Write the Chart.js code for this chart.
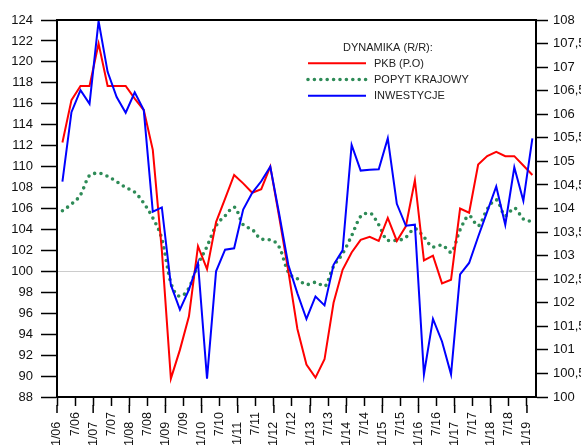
<!DOCTYPE html>
<html>
<head>
<meta charset="utf-8">
<script src="https://cdn.jsdelivr.net/npm/chart.js@4.4.1/dist/chart.umd.min.js"></script>
<style>
  html, body { margin: 0; padding: 0; background: #fff; overflow: hidden; width: 581px; height: 446px; }
  canvas { display: block; }
</style>
</head>
<body>
<canvas id="c" width="620" height="460"></canvas>
<script>
// ---- data (quarterly, I 2006 .. I 2019) ----
const xTickLabels = ['1/06','7/06','1/07','7/07','1/08','7/08','1/09','7/09','1/10','7/10',
  '1/11','7/11','1/12','7/12','1/13','7/13','1/14','7/14','1/15','7/15','1/16','7/16',
  '1/17','7/17','1/18','7/18','1/19'];

const pkb = [112.3,116.35,117.7,117.7,121.75,117.7,117.7,117.7,116.5,115.4,
  111.6,102.0,89.75,92.5,95.7,102.4,100.2,104.7,106.95,109.2,
  108.4,107.5,107.85,110.0,105.1,100.0,94.5,91.1,89.85,91.6,
  97.0,100.15,101.8,103.0,103.3,102.9,105.1,102.9,104.3,108.7,
  101.05,101.5,98.85,99.2,106.0,105.6,110.2,111.0,111.4,111.0,
  111.0,110.1,109.2];

const popyt = [105.78,106.42,107.3,109.14,109.37,109.08,108.57,108.0,107.56,106.51,
  105.1,103.1,98.9,97.62,98.4,100.64,102.38,104.35,105.3,106.13,
  104.45,104.0,103.08,103.0,102.3,99.9,99.3,98.73,98.95,98.57,
  100.48,101.69,103.4,105.24,105.56,104.45,102.95,102.95,103.25,104.07,
  103.27,102.32,102.51,101.81,103.97,105.3,104.35,105.94,106.83,105.3,
  106.04,104.99,104.76];

const inwestycje = [108.57,115.2,117.3,116.0,123.9,119.05,116.65,115.15,117.1,115.4,
  105.7,106.1,98.7,96.35,98.26,100.8,89.75,100.0,102.07,102.2,
  105.9,107.5,108.6,110.0,105.4,100.6,97.9,95.45,97.6,96.75,
  100.62,102.0,112.07,109.62,109.7,109.75,112.7,106.45,104.35,104.45,
  90.16,95.46,93.3,90.16,99.7,100.8,103.3,105.7,108.1,104.45,
  109.94,106.73,112.7];

const seriesNames = ['PKB (P.O)', 'POPYT KRAJOWY', 'INWESTYCJE'];
const legendTitle = 'DYNAMIKA (R/R):';

// ---- layout / style ----
const POINT_OFFSET = 0.6;           // points drawn inside each quarter
const FONT = 'Arial, "Liberation Sans", sans-serif';
const toPts = arr => arr.map((v, i) => ({ x: i + POINT_OFFSET, y: v }));

const frameAndTicks = {
  id: 'frameAndTicks',
  afterDraw(chart) {
    const { ctx, chartArea } = chart;
    const xs = chart.scales.x;
    ctx.save();
    ctx.strokeStyle = '#000';
    // top frame line
    ctx.lineWidth = 2;
    ctx.beginPath();
    ctx.moveTo(chartArea.left, chartArea.top);
    ctx.lineTo(chartArea.right, chartArea.top);
    ctx.stroke();
    // longer ticks for January labels
    ctx.lineWidth = 1.5;
    xs.ticks.forEach(t => {
      const k = Math.round(t.value / 2);
      if (k % 2 === 0) {
        const px = xs.getPixelForValue(t.value);
        ctx.beginPath();
        ctx.moveTo(px, chartArea.bottom + 8);
        ctx.lineTo(px, chartArea.bottom + 16);
        ctx.stroke();
      }
    });
    // legend
    ctx.font = '11px ' + FONT;
    ctx.fillStyle = '#222';
    ctx.textBaseline = 'middle';
    ctx.textAlign = 'left';
    ctx.fillText(legendTitle, 343, 47.5);
    chart.data.datasets.forEach((ds, k) => {
      const y = 63.3 + k * 16.2;
      ctx.beginPath();
      ctx.strokeStyle = ds.borderColor;
      ctx.lineWidth = ds.borderWidth;
      ctx.setLineDash(ds.borderDash || []);
      ctx.lineCap = ds.borderCapStyle || 'butt';
      ctx.moveTo(308, y);
      ctx.lineTo(366, y);
      ctx.stroke();
      ctx.setLineDash([]);
      ctx.fillText(ds.label, 374, y + 0.5);
    });
    ctx.restore();
  }
};

new Chart(document.getElementById('c'), {
  type: 'line',
  data: {
    datasets: [
      { label: seriesNames[0], data: toPts(pkb), borderColor: '#ff0000', borderWidth: 2,
        pointRadius: 0, tension: 0, order: 1 },
      { label: seriesNames[1], data: toPts(popyt), borderColor: '#2e8b57', borderWidth: 3.6,
        borderDash: [0, 6.4], borderCapStyle: 'round', pointRadius: 0,
        cubicInterpolationMode: 'monotone', order: 2 },
      { label: seriesNames[2], data: toPts(inwestycje), borderColor: '#0000ff', borderWidth: 2,
        pointRadius: 0, tension: 0, order: 0 }
    ]
  },
  options: {
    responsive: false,
    animation: false,
    devicePixelRatio: 1,
    layout: { padding: { top: 20, left: 0, right: 0, bottom: 0 } },
    plugins: { legend: { display: false }, tooltip: { enabled: false } },
    scales: {
      x: {
        type: 'linear', min: 0, max: 53,
        afterBuildTicks: s => { s.ticks = xTickLabels.map((_, k) => ({ value: k * 2 })); },
        afterFit: s => { s.height = 63; },
        grid: { drawOnChartArea: false, tickLength: 9, tickColor: '#000', tickWidth: 1.5 },
        border: { display: true, color: '#000', width: 2 },
        ticks: {
          autoSkip: false, maxRotation: 90, minRotation: 90, padding: 6,
          color: '#111', font: { family: FONT, size: 12.5 },
          callback: v => {
            const k = Math.round(v / 2);
            return k % 2 === 0 ? xTickLabels[k] + '\u2002 ' : xTickLabels[k];
          }
        }
      },
      y: {
        position: 'left', min: 88, max: 124,
        afterFit: s => { s.width = 57; },
        grid: {
          color: c => (c.tick && c.tick.value === 100) ? '#cccccc' : 'rgba(0,0,0,0)',
          lineWidth: 1, tickColor: '#000', tickLength: 16, tickWidth: 1.5
        },
        border: { display: true, color: '#000', width: 2 },
        ticks: { stepSize: 2, padding: 8, color: '#111', font: { family: FONT, size: 13 } }
      },
      y2: {
        position: 'right', min: 100, max: 108,
        afterFit: s => { s.width = 620 - 536; },
        grid: { drawOnChartArea: false, tickColor: '#000', tickLength: 12, tickWidth: 1.5 },
        border: { display: true, color: '#000', width: 2 },
        ticks: {
          stepSize: 0.5, padding: 5, color: '#111', font: { family: FONT, size: 13 },
          callback: v => String(v).replace('.', ',')
        }
      }
    }
  },
  plugins: [frameAndTicks]
});
</script>
</body>
</html>
